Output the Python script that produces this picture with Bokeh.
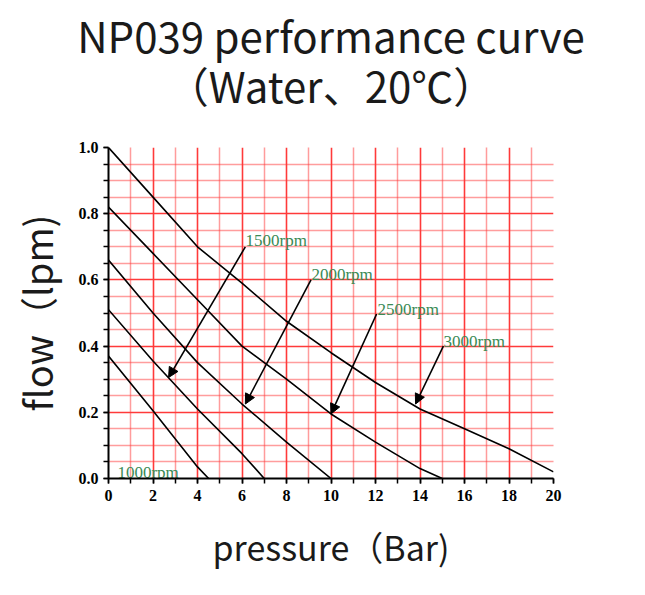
from bokeh.core.properties import value
from bokeh.embed import file_html
from bokeh.models import Arrow, FixedTicker, Label, NormalHead, PrintfTickFormatter
from bokeh.plotting import figure
from bokeh.resources import INLINE

# pressure (Bar) / flow (lpm)
pressure_1000 = [0, 2, 4, 4.5]
flow_1000 = [0.37, 0.205, 0.035, 0.0]

pressure_1500 = [0, 2, 4, 6, 7]
flow_1500 = [0.51, 0.355, 0.21, 0.075, 0.0]

pressure_2000 = [0, 2, 4, 6, 8, 10]
flow_2000 = [0.66, 0.50, 0.35, 0.225, 0.11, 0.0]

pressure_2500 = [0, 2, 4, 6, 8, 10, 12, 14, 15]
flow_2500 = [0.82, 0.68, 0.54, 0.40, 0.30, 0.195, 0.11, 0.03, 0.0]

pressure_3000 = [0, 2, 4, 6, 8, 10, 12, 14, 16, 18, 20]
flow_3000 = [1.0, 0.85, 0.70, 0.59, 0.475, 0.38, 0.29, 0.21, 0.15, 0.09, 0.02]

# speed labels and the arrows that point them at their curves
speed_labels = ["1000rpm", "1500rpm", "2000rpm", "2500rpm", "3000rpm"]
label_x = [0.40, 6.16, 9.12, 12.09, 15.06]
label_y = [0.019, 0.718, 0.617, 0.512, 0.414]

arrow_x_start = [6.15, 9.10, 12.05, 15.05]
arrow_y_start = [0.70, 0.60, 0.497, 0.40]
arrow_x_end = [2.70, 6.15, 10.0, 13.8]
arrow_y_end = [0.305, 0.225, 0.195, 0.225]

x_major = [0, 2, 4, 6, 8, 10, 12, 14, 16, 18, 20]
x_minor = list(range(0, 21))
y_major = [0.0, 0.2, 0.4, 0.6, 0.8, 1.0]
y_minor = [i * 0.05 for i in range(21)]

title_lines = ["NP039 performance curve", "\uff08Water\u300120\u2103\uff09"]

GRID_RED = "#ff3a3a"
LABEL_GREEN = "#3a8a55"

p = figure(
    width=629,
    height=579,
    x_range=(0, 20),
    y_range=(0, 1.0),
    output_backend="svg",
    toolbar_location=None,
    min_border_left=108,
    min_border_right=76,
    min_border_top=147,
    min_border_bottom=101,
    x_axis_label="pressure\uff08Bar)",
    y_axis_label="flow\uff08lpm)",
)
p.outline_line_color = None

# the two title lines sit in the top margin; each label gets its own side panel,
# y is measured up from that panel's bottom edge
for line, dy in zip(title_lines, [113, 2]):
    p.add_layout(Label(x=222.5, y=dy, x_units="screen", y_units="screen", text=line,
                       text_align="center", text_baseline="alphabetic",
                       text_font="Noto Sans CJK SC", text_font_size="42px",
                       text_color="#1a1a1a"), "above")

# grid: solid every 2 bar / 0.2 lpm, dotted in between, none on the edges
p.xgrid.ticker = FixedTicker(ticks=x_major[1:-1], minor_ticks=[v for v in x_minor[1:-1] if v % 2])
p.ygrid.ticker = FixedTicker(ticks=y_major[1:-1],
                             minor_ticks=[v for v in y_minor[1:-1] if round(v * 20) % 4])
for g in (p.xgrid, p.ygrid):
    g.grid_line_color = GRID_RED
    g.grid_line_width = 1.6
    g.minor_grid_line_color = GRID_RED
    g.minor_grid_line_width = 1.5
    g.minor_grid_line_dash = "1 1"

p.xaxis.ticker = FixedTicker(ticks=x_major, minor_ticks=x_minor)
p.yaxis.ticker = FixedTicker(ticks=y_major, minor_ticks=y_minor)
p.yaxis.formatter = PrintfTickFormatter(format="%.1f")
for ax in (p.xaxis, p.yaxis):
    ax.axis_line_width = 2
    ax.axis_line_color = "black"
    ax.major_tick_line_color = "black"
    ax.minor_tick_line_color = "black"
    ax.major_tick_line_width = 1.5
    ax.minor_tick_line_width = 1.5
    ax.major_tick_in = 0
    ax.major_tick_out = 5
    ax.minor_tick_in = 0
    ax.minor_tick_out = 5
    ax.major_label_text_font = "Liberation Serif"
    ax.major_label_text_font_style = "bold"
    ax.major_label_text_font_size = "16px"
    ax.major_label_text_color = "black"
    ax.axis_label_text_font = "Noto Sans CJK SC"
    ax.axis_label_text_font_style = "normal"
    ax.axis_label_text_color = "#1a1a1a"
p.xaxis.major_label_standoff = 6
p.yaxis.major_label_standoff = 5
p.xaxis.axis_label_text_font_size = "34px"
p.yaxis.axis_label_text_font_size = "38px"
p.xaxis.axis_label_standoff = 18
p.yaxis.axis_label_standoff = 12

curves = [
    (pressure_1000, flow_1000),
    (pressure_1500, flow_1500),
    (pressure_2000, flow_2000),
    (pressure_2500, flow_2500),
    (pressure_3000, flow_3000),
]
for xs, ys in curves:
    p.line(xs, ys, line_color="black", line_width=1.6)

for xs, ys, xe, ye in zip(arrow_x_start, arrow_y_start, arrow_x_end, arrow_y_end):
    p.add_layout(Arrow(
        end=NormalHead(size=10, fill_color="black", line_color="black", line_width=1),
        x_start=xs, y_start=ys, x_end=xe, y_end=ye,
        line_color="black", line_width=1.6,
    ))

p.text(label_x, label_y, text=speed_labels, text_color=LABEL_GREEN,
       text_font=value("Liberation Serif"), text_font_size="17px",
       text_baseline="alphabetic", text_align="left")

open("out.html", "w").write(file_html(p, INLINE))
